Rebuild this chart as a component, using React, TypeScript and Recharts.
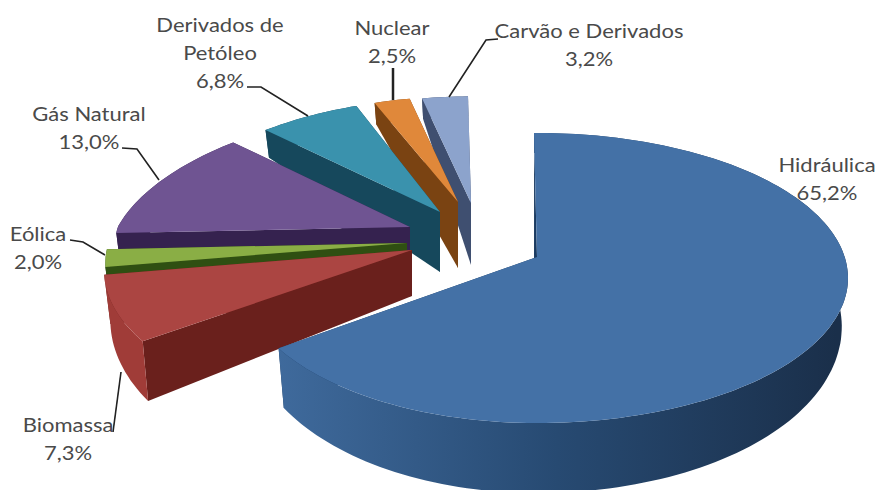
import React from 'react';
import { PieChart, Pie } from 'recharts';

// Matriz energética: participação de cada fonte, em %, na ordem de pintura (de trás para a frente)
const categories = ['Carvão e Derivados', 'Nuclear', 'Derivados de Petróleo', 'Gás Natural', 'Eólica', 'Biomassa', 'Hidráulica'];
const values = [3.2, 2.5, 6.8, 13.0, 2.0, 7.3, 65.2];

const data = categories.map((name, i) => ({ name, value: values[i] }));

const WIDTH = 878;
const HEIGHT = 490;
const CX = 475;
const CY = 240;
const RADIUS = 307.7;
const TILT = 142 / 307.7;
const PERSPECTIVE = 0.1448;

// Deslocamento de cada fatia destacada e a escala aparente pela distância
const explode: Record<string, { dx: number; dy: number; scale: number; apexDepth: number; leftX?: number; apexShift?: number }> = {
  'Carvão e Derivados': { dx: -4, dy: -37, scale: 0.86, apexDepth: 62, leftX: 1.1 },
  Nuclear: { dx: -17, dy: -38, scale: 0.85, apexDepth: 66, leftX: 1.1 },
  'Derivados de Petróleo': { dx: -35, dy: -28, scale: 0.91, apexDepth: 60, leftX: 1.03 },
  'Gás Natural': { dx: -65, dy: -13, scale: 0.94, apexDepth: 40, leftX: 1.01 },
  Eólica: { dx: -68, dy: 3, scale: 0.97, apexDepth: 30 },
  Biomassa: { dx: -63, dy: 10, scale: 1, apexDepth: 46, leftX: 0.99 },
  Hidráulica: { dx: 62, dy: 17, scale: 1, apexDepth: 46, leftX: 0.95, apexShift: -3 },
};

const palette: Record<string, { top: string; side: string; rim: string | string[] }> = {
  'Carvão e Derivados': { top: '#8CA3CC', side: '#3F4F70', rim: '#3F4F70' },
  Nuclear: { top: '#E0883A', side: '#7A4312', rim: '#7A4312' },
  'Derivados de Petróleo': { top: '#3A92AD', side: '#16485C', rim: '#16485C' },
  'Gás Natural': { top: '#6F5492', side: '#35224F', rim: '#35224F' },
  Eólica: { top: '#8AAE45', side: '#2F4F12', rim: '#2F4F12' },
  Biomassa: { top: '#AB4542', side: '#6A201C', rim: '#A03C38' },
  Hidráulica: { top: '#4471A6', side: '#1A3A60', rim: ['#3F6A9C', '#274A72', '#1A2F4A'] },
};

const labelLines: Record<string, { lines: string[]; x: number; y: number; leader?: number[][] }> = {
  'Carvão e Derivados': { lines: ['Carvão e Derivados'], x: 589, y: 38, leader: [[449, 97], [486, 40], [498, 39]] },
  Nuclear: { lines: ['Nuclear'], x: 392, y: 35, leader: [[393, 68], [393, 100]] },
  'Derivados de Petróleo': { lines: ['Derivados de', 'Petóleo'], x: 220, y: 32, leader: [[247, 87], [261, 87], [308, 116]] },
  'Gás Natural': { lines: ['Gás Natural'], x: 89, y: 121, leader: [[122, 148], [137, 149], [159, 180]] },
  Eólica: { lines: ['Eólica'], x: 38, y: 241, leader: [[70, 240], [83, 242], [105, 255]] },
  Biomassa: { lines: ['Biomassa'], x: 68, y: 432, leader: [[113, 432], [121, 372]] },
  Hidráulica: { lines: ['Hidráulica'], x: 827, y: 172 },
};

const percent = (v: number) => `${v.toFixed(1).replace('.', ',')}%`;

// Projeção em perspectiva de um ponto da borda, relativa ao vértice da fatia
function project(thetaDeg: number, radius: number, scale: number, leftX = 1) {
  const t = (thetaDeg * Math.PI) / 180;
  const sin = Math.sin(t);
  const cos = Math.cos(t);
  const s = 1 / (1 + PERSPECTIVE * cos);
  const narrowing = sin < 0 ? (1 - 0.1 * Math.max(cos, 0)) * leftX : 1;
  return { x: radius * sin * s * scale * narrowing, y: -radius * TILT * cos * s * scale, depth: 45 - 25 * cos };
}

const toPath = (pts: number[][]) => `M${pts.map((p) => `${p[0].toFixed(1)},${p[1].toFixed(1)}`).join('L')}Z`;

function Slice3D(props: any) {
  const { cx, cy, outerRadius, startAngle, endAngle, name } = props;
  const key: string = name ?? props.payload?.name;
  const o = explode[key];
  const c = palette[key];
  const ax = cx + o.dx;
  const ay = cy + o.dy;
  const steps = Math.max(4, Math.ceil(Math.abs(endAngle - startAngle) / 1.5));
  const top: number[][] = [];
  const bottom: number[][] = [];
  for (let i = 0; i <= steps; i++) {
    const phi = startAngle + ((endAngle - startAngle) * i) / steps;
    const p = project(90 - phi, outerRadius, o.scale, o.leftX);
    top.push([ax + p.x, ay + p.y]);
    bottom.push([ax + p.x * 0.98, ay + p.y + p.depth]);
  }
  const apexBottom = [ax + (o.apexShift ?? 0), ay + o.apexDepth];
  const rimPath = toPath([...top, ...bottom.slice().reverse()]);
  const faceA = toPath([[ax, ay], top[0], bottom[0], apexBottom]);
  const faceB = toPath([[ax, ay], top[steps], bottom[steps], apexBottom]);
  const midPhi = (startAngle + endAngle) / 2;
  const rimBehind = Math.cos(((90 - midPhi) * Math.PI) / 180) > 0;
  const gradientId = `rim-${props.index ?? 0}`;
  const rimFill = Array.isArray(c.rim) ? `url(#${gradientId})` : c.rim;
  const rim = <path d={rimPath} fill={rimFill} />;
  const faces = (
    <>
      <path d={faceA} fill={c.side} />
      <path d={faceB} fill={c.side} />
    </>
  );
  return (
    <g>
      {Array.isArray(c.rim) && (
        <defs>
          <linearGradient id={gradientId} gradientUnits="userSpaceOnUse" x1={ax - 260} x2={ax + 300} y1={0} y2={0}>
            {c.rim.map((col, i) => (
              <stop key={col} offset={i / (c.rim.length - 1)} stopColor={col} />
            ))}
          </linearGradient>
        </defs>
      )}
      {rimBehind ? rim : faces}
      {rimBehind ? faces : rim}
      <path d={toPath([[ax, ay], ...top])} fill={c.top} />
    </g>
  );
}

function SliceLabel(props: any) {
  const key: string = props.name ?? props.payload?.name;
  const l = labelLines[key];
  const value: number = props.value;
  return (
    <g>
      {l.leader && (
        <polyline points={l.leader.map((p) => p.join(',')).join(' ')} fill="none" stroke="#222" strokeWidth={key === 'Nuclear' ? 2.5 : 1.6} />
      )}
      {[...l.lines, percent(value)].map((t, i) => (
        <text
          key={t}
          transform={`translate(${l.x},${l.y + i * 28}) scale(1.1,1)`}
          fontFamily="Lato, sans-serif"
          fontSize={20}
          fill="#4a4a4a"
          textAnchor="middle"
        >
          {t}
        </text>
      ))}
    </g>
  );
}

export default function App() {
  return (
    <div style={{ position: 'absolute', left: 0, top: 0, width: WIDTH, height: HEIGHT, background: '#fff' }}>
      <PieChart width={WIDTH} height={HEIGHT} margin={{ top: 0, right: 0, bottom: 0, left: 0 }}>
        <Pie
          data={data}
          dataKey="value"
          nameKey="name"
          cx={CX}
          cy={CY}
          innerRadius={0}
          outerRadius={RADIUS}
          startAngle={90.75}
          endAngle={450.75}
          stroke="none"
          isAnimationActive={false}
          shape={(p: any) => <Slice3D {...p} />}
          label={(p: any) => <SliceLabel {...p} />}
          labelLine={false}
        />
      </PieChart>
    </div>
  );
}
